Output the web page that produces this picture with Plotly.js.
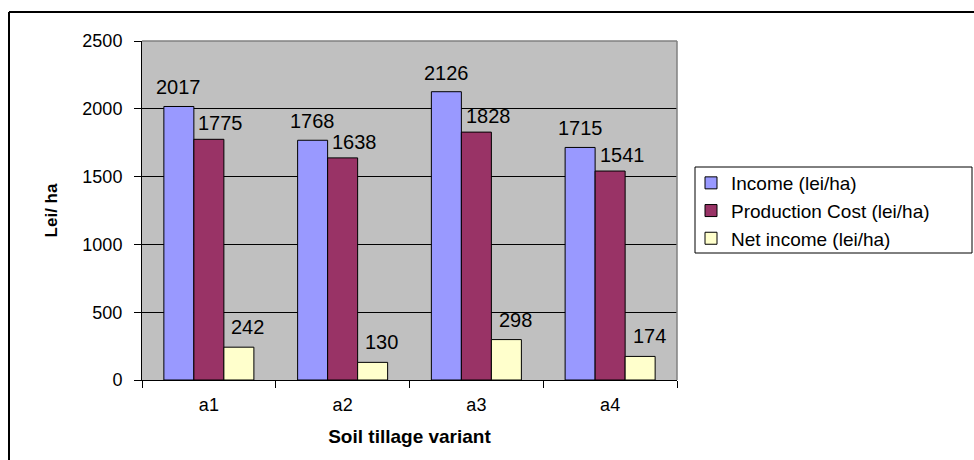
<!DOCTYPE html>
<html>
<head>
<meta charset="utf-8">
<script src="https://cdn.plot.ly/plotly-3.0.1.min.js"></script>
<style>html,body{margin:0;padding:0;background:#fff;}#chart{width:974px;height:460px;}</style>
</head>
<body>
<div id="chart"></div>
<script>
var categories = ["a1", "a2", "a3", "a4"];
var seriesNames = ["Income (lei/ha)", "Production Cost (lei/ha)", "Net income (lei/ha)"];
var income = [2017, 1768, 2126, 1715];
var productionCost = [1775, 1638, 1828, 1541];
var netIncome = [242, 130, 298, 174];
var yTicks = [0, 500, 1000, 1500, 2000, 2500];

var colors = ["#9999FF", "#993366", "#FFFFCC"];
var allValues = [income, productionCost, netIncome];
var FONT = "Liberation Sans, Arial, sans-serif";

var L = 142, R = 677, T = 41, B = 380, W = 974, H = 460;
function px(x) { return (x - L) / (R - L); }
function py(y) { return (B - y) / (B - T); }

var bargap = 0.327;
var barPx = (R - L) / categories.length * (1 - bargap) / allValues.length;
var labelDx = [0, 12, 9];
var labelDy = [19, 16, 20];

var traces = allValues.map(function (vals, i) {
  return {
    type: "bar",
    name: seriesNames[i],
    x: categories,
    y: vals,
    marker: {color: colors[i], line: {color: "#000", width: 1}}
  };
});

var annotations = [];
allValues.forEach(function (vals, i) {
  vals.forEach(function (v, j) {
    annotations.push({
      x: categories[j], y: v, xref: "x", yref: "y",
      text: String(v), showarrow: false,
      xanchor: "center", yanchor: "middle",
      xshift: (i - 1) * barPx + labelDx[i],
      yshift: labelDy[i],
      font: {family: FONT, size: 20, color: "#000"}
    });
  });
});

var layout = {
  width: W, height: H,
  margin: {l: L, r: W - R, t: T, b: H - B, pad: 0},
  paper_bgcolor: "#ffffff",
  plot_bgcolor: "#C0C0C0",
  barmode: "group",
  bargap: bargap,
  bargroupgap: 0,
  font: {family: FONT, size: 18, color: "#000"},
  showlegend: true,
  legend: {
    x: px(691), y: py(164), xanchor: "left", yanchor: "top",
    bgcolor: "rgba(0,0,0,0)", borderwidth: 0,
    font: {family: FONT, size: 19, color: "#000"},
    traceorder: "normal"
  },
  xaxis: {
    type: "category",
    showline: true, linecolor: "#000", linewidth: 1,
    ticks: "outside", tickson: "boundaries", ticklen: 7, tickcolor: "#000", tickwidth: 1,
    ticklabelstandoff: 8,
    tickfont: {family: FONT, size: 18},
    showgrid: false,
    title: {text: "<b>Soil tillage variant</b>", font: {family: FONT, size: 19}, standoff: 16}
  },
  yaxis: {
    range: [0, 2500],
    tickvals: yTicks,
    showline: true, linecolor: "#000", linewidth: 1,
    ticks: "outside", ticklen: 7, tickcolor: "#000", tickwidth: 1,
    ticklabelstandoff: 8,
    tickfont: {family: FONT, size: 18},
    showgrid: true, gridcolor: "#000", gridwidth: 1,
    zeroline: false,
    title: {text: "<b>Lei/ ha</b>", font: {family: FONT, size: 17}, standoff: 20}
  },
  annotations: annotations,
  shapes: [
    {type: "line", xref: "paper", yref: "paper", x0: 0, x1: 1, y0: 1, y1: 1, line: {color: "#808080", width: 1.5}, layer: "above"},
    {type: "line", xref: "paper", yref: "paper", x0: 1, x1: 1, y0: 0, y1: 1, line: {color: "#808080", width: 1.5}, layer: "above"},
    {type: "line", xref: "paper", yref: "paper", x0: px(9), x1: px(9), y0: py(12), y1: py(470), line: {color: "#000", width: 2}},
    {type: "line", xref: "paper", yref: "paper", x0: px(9), x1: px(980), y0: py(12), y1: py(12), line: {color: "#000", width: 2}},
    {type: "rect", xref: "paper", yref: "paper", x0: px(695), x1: px(972), y0: py(167), y1: py(253), line: {color: "#000", width: 1}, fillcolor: "#ffffff", layer: "below"}
  ]
};

Plotly.newPlot("chart", traces, layout, {displayModeBar: false, staticPlot: true});
</script>
</body>
</html>
